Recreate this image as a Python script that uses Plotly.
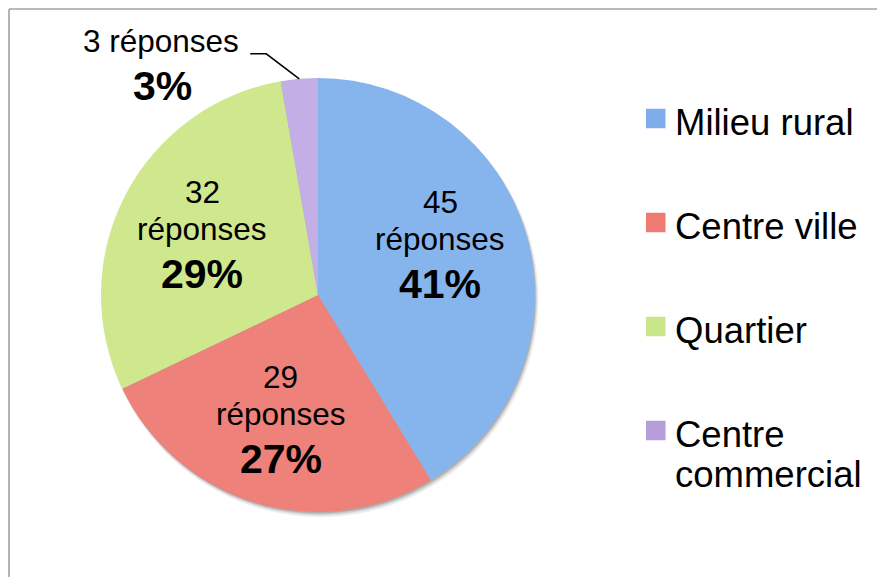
import math
import plotly.graph_objects as go

# ---- data ----
categories = ["Milieu rural", "Centre ville", "Quartier", "Centre commercial"]
responses = [45, 29, 32, 3]
percent_labels = ["41%", "27%", "29%", "3%"]
colors = ["#86b5ee", "#ee8179", "#cfe88e", "#c3aee6"]
legend_colors = ["#7eaeea", "#ec7c72", "#cbe68a", "#b59dd9"]

# page body has an 8px margin: draw in window coordinates, shifted back
W, H = 885, 577
OFF = 8
FW, FH = W - OFF, H - OFF
CX, CY, R = 318, 295, 217
FONT = "Arial, 'Liberation Sans', sans-serif"
# small placement tweak (pixels) for the first label, as the original does
LABEL_NUDGE = {0: (-3, -15)}


def px(x):
    return (x - OFF) / FW


def py(y):
    return 1 - (y - OFF) / FH


fig = go.Figure()
fig.add_trace(go.Pie(
    labels=categories,
    values=responses,
    sort=False,
    direction="clockwise",
    rotation=0,
    marker=dict(colors=colors, line=dict(width=0)),
    textinfo="none",
    hoverinfo="label+value+percent",
    showlegend=False,
    domain=dict(x=[px(CX - R), px(CX + R)], y=[py(CY + R), py(CY - R)]),
))

shapes = []
annotations = []

# soft shadow under the pie
for off, rad, alpha in [(4, R + 1, 0.08), (3, R, 0.12), (2, R - 0.5, 0.15)]:
    shapes.append(dict(
        type="circle", xref="paper", yref="paper", layer="below",
        x0=px(CX + off * 0.6 - rad), x1=px(CX + off * 0.6 + rad),
        y0=py(CY + off + rad), y1=py(CY + off - rad),
        fillcolor=f"rgba(0,0,0,{alpha})", line=dict(width=0),
    ))

# frame (left and top edges)
shapes.append(dict(type="line", xref="paper", yref="paper",
                   x0=px(9), x1=px(9), y0=py(9), y1=0,
                   line=dict(color="#a3a3a3", width=1.6)))
shapes.append(dict(type="line", xref="paper", yref="paper",
                   x0=px(9), x1=1, y0=py(9), y1=py(9),
                   line=dict(color="#a3a3a3", width=1.6)))

# data labels
total = sum(responses)
cum = 0
for i, v in enumerate(responses):
    mid = (cum + v / 2) / total * 2 * math.pi
    cum += v
    reg = dict(family=FONT, size=31.5, color="#000000")
    bold = dict(family=FONT, size=41, color="#000000")
    if v / total > 0.05:
        nx, ny = LABEL_NUDGE.get(i, (0, 0))
        lx = CX + 0.6 * R * math.sin(mid) + nx
        ly = CY - 0.6 * R * math.cos(mid) + ny
        for txt, dy, f in [(str(v), -43, reg), ("réponses", -6, reg),
                           (f"<b>{percent_labels[i]}</b>", 39, bold)]:
            annotations.append(dict(text=txt, x=px(lx), y=py(ly + dy),
                                    xref="paper", yref="paper", showarrow=False,
                                    xanchor="center", yanchor="middle", font=f))
    else:
        ex = CX + R * math.sin(mid)
        ey = CY - R * math.cos(mid)
        shapes.append(dict(type="path", xref="paper", yref="paper",
                           path=f"M {px(ex - 49)} {py(ey - 25)} L {px(ex - 33)} {py(ey - 25)} L {px(ex)} {py(ey)}",
                           line=dict(color="#000000", width=1.5)))
        annotations.append(dict(text=f"{v} réponses", x=px(ex - 138), y=py(ey - 38),
                                xref="paper", yref="paper", showarrow=False,
                                xanchor="center", yanchor="middle", font=reg))
        annotations.append(dict(text=f"<b>{percent_labels[i]}</b>", x=px(ex - 137), y=py(ey + 7),
                                xref="paper", yref="paper", showarrow=False,
                                xanchor="center", yanchor="middle", font=bold))

# manual legend
LX0, LY0, LSTEP, SQ = 646, 118.5, 104, 19.5
for i, name in enumerate(categories):
    cy = LY0 + i * LSTEP
    shapes.append(dict(type="rect", xref="paper", yref="paper",
                       x0=px(LX0), x1=px(LX0 + SQ), y0=py(cy + SQ / 2), y1=py(cy - SQ / 2),
                       fillcolor=legend_colors[i], line=dict(width=0)))
    lines = name.split(" ", 1) if len(name) > 14 else [name]
    for k, ln in enumerate(lines):
        annotations.append(dict(text=ln, x=px(LX0 + 27), y=py(cy + 3.5 + k * 40),
                                xref="paper", yref="paper", showarrow=False,
                                xanchor="left", yanchor="middle",
                                font=dict(family=FONT, size=36.5, color="#000000")))

fig.update_layout(
    width=FW, height=FH,
    margin=dict(l=0, r=0, t=0, b=0),
    paper_bgcolor="#ffffff", plot_bgcolor="#ffffff",
    shapes=shapes, annotations=annotations,
    showlegend=False,
)

fig.write_html("out.html")
